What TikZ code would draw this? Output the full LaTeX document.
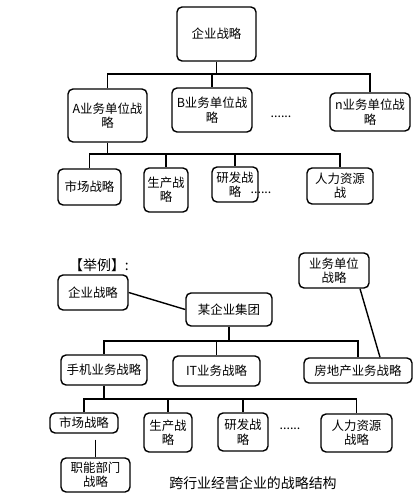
\documentclass[tikz,border=0pt]{standalone}
\usepackage{fontspec}
\newfontfamily\cjk{Noto Sans CJK SC}
\tikzstyle{stratbox} = [draw=black, line width=1.4bp, rectangle, rounded corners=5bp,
    inner sep=0pt, align=center, font=\cjk\fontsize{12.5}{14.5}\selectfont]
\tikzstyle{plaintext} = [inner sep=0pt, font=\cjk\fontsize{12.5}{14.5}\selectfont]
\tikzstyle{bigtext} = [inner sep=0pt, font=\cjk\fontsize{14}{16}\selectfont]
\tikzstyle{link} = [draw=black, line width=1.4bp]

\begin{document}
\begin{tikzpicture}[x=1bp,y=-1bp]
                \useasboundingbox (0,0) rectangle (418,500);
                % general structure
                \node [stratbox, minimum width=79bp, minimum height=54bp] (corp) at (216.5,34) {企业战略};
                \node [stratbox, minimum width=79bp, minimum height=53bp] (unitA) at (107.5,115.5) {A业务单位战\\略};
                \node [stratbox, minimum width=80bp, minimum height=44bp] (unitB) at (212,110) {B业务单位战\\略};
                \node [plaintext] (dotsB) at (281,117) {......};
                \node [stratbox, minimum width=80bp, minimum height=38bp] (unitN) at (370,112) {n业务单位战\\略};
                \node [stratbox, minimum width=63bp, minimum height=36bp] (mkt) at (89.5,187) {市场战略};
                \node [stratbox, minimum width=44bp, minimum height=44bp] (prod) at (166,190) {生产战\\略};
                \node [stratbox, minimum width=46bp, minimum height=35bp] (rnd) at (235,184.5) {研发战\\略};
                \node [plaintext] (dotsF) at (261,193) {......};
                \node [stratbox, minimum width=66bp, minimum height=36bp] (hr) at (340,186) {人力资源\\战};
                \coordinate (busTop) at (216.5,74);
                \coordinate (busA) at (107.5,154);
                \draw [link] (corp) -- (busTop);
                \draw [link] (unitA.north) |- (busTop) -| (unitN.north);
                \draw [link] (busTop -| unitB.north) -- (unitB.north);
                \draw [link] (unitA) -- (busA);
                \draw [link] (mkt.north) |- (busA) -| (hr.north);
                \draw [link] (busA -| prod.north) -- (prod.north);
                \draw [link] (busA -| rnd.north) -- (rnd.north);
                % example
                \node [bigtext] (example) at (99,265) {【举例】:};
                \node [stratbox, minimum width=70bp, minimum height=35bp] (corpE) at (93,292.5) {企业战略};
                \node [stratbox, minimum width=86bp, minimum height=33bp] (group) at (229,309.5) {某企业集团};
                \node [stratbox, minimum width=70bp, minimum height=35bp] (unitE) at (334,270.5) {业务单位\\战略};
                \node [stratbox, minimum width=86bp, minimum height=30bp] (phone) at (104,370) {手机业务战略};
                \node [stratbox, minimum width=87bp, minimum height=30bp] (itbiz) at (216.5,371) {IT业务战略};
                \node [stratbox, minimum width=108bp, minimum height=25bp] (estate) at (358,370.5) {房地产业务战略};
                \node [stratbox, minimum width=68bp, minimum height=20bp] (mktE) at (84,423) {市场战略};
                \node [stratbox, minimum width=48bp, minimum height=39bp] (prodE) at (168,432.5) {生产战\\略};
                \node [stratbox, minimum width=50bp, minimum height=38bp] (rndE) at (243,432) {研发战\\略};
                \node [plaintext] (dotsE) at (290,429) {......};
                \node [stratbox, minimum width=71bp, minimum height=38bp] (hrE) at (356.5,433) {人力资源\\战略};
                \node [stratbox, minimum width=69bp, minimum height=34bp] (duty) at (95.5,475) {职能部门\\战略};
                \node [bigtext] (caption) at (253,483) {跨行业经营企业的战略结构};
                \coordinate (busG) at (229,341);
                \coordinate (busP) at (104,399);
                \draw [link] (corpE.east) -- (group.west);
                \draw [link] ([xshift=26bp]unitE.south) -- ([xshift=22bp]estate.north);
                \draw [link] (group) -- (busG);
                \draw [link] (phone.north) |- (busG) -| (estate.north);
                \draw [link] (busG -| itbiz.north) -- (itbiz.north);
                \draw [link] (phone) -- (busP);
                \draw [link] (mktE.north) |- (busP) -| (hrE.north);
                \draw [link] (busP -| prodE.north) -- (prodE.north);
                \draw [link] (busP -| rndE.north) -- (rndE.north);
                \draw [link, shorten <=6bp] (mktE.south -| duty.north) -- (duty.north);
\end{tikzpicture}
\end{document}
